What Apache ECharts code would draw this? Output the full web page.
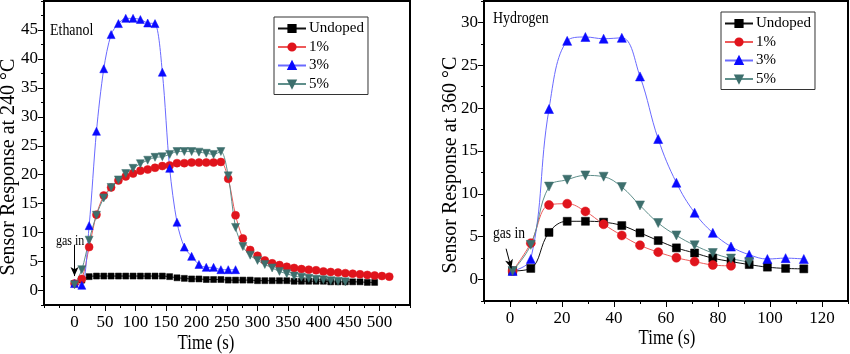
<!DOCTYPE html>
<html>
<head>
<meta charset="utf-8">
<script src="https://cdn.jsdelivr.net/npm/echarts@6/dist/echarts.min.js"></script>
<style>
html,body{margin:0;padding:0;background:#fff;}
#chart{width:850px;height:354px;}
</style>
</head>
<body>
<div id="chart"></div>
<script>
//Ethanol, 240 °C
var ethTime = [0,12,24,36,48,60,72,84,96,108,120,132,144,156,168,180,192,204,216,228,240,252,264,276,288,300,312,324,336,348,360,372,384,396,408,420,432,444,456,468,480,492,504,516];
var ethUndoped = [1.2,1.8,2.4,2.5,2.5,2.5,2.5,2.5,2.5,2.5,2.5,2.5,2.5,2.4,2.2,2.1,2.0,2.0,1.9,1.9,1.9,1.8,1.8,1.8,1.8,1.7,1.7,1.7,1.7,1.7,1.6,1.6,1.6,1.6,1.6,1.5,1.5,1.5,1.5,1.5,1.4,1.4];
var eth1 = [1.2,2.0,7.5,13.1,16.4,17.8,19.0,19.7,20.2,20.7,20.9,21.2,21.5,21.6,22.0,22.0,22.1,22.1,22.1,22.1,22.2,19.3,13.0,9.0,7.0,6.0,5.2,4.7,4.4,4.1,3.9,3.7,3.6,3.5,3.3,3.2,3.1,3.0,2.9,2.8,2.7,2.6,2.5,2.4];
var eth3 = [1.2,0.9,11.2,27.5,38.3,44.2,46.1,47.0,47.0,46.8,46.2,46.1,37.7,21.1,11.8,7.5,5.9,4.5,4.0,4.0,3.6,3.6,3.6];
var eth5 = [1.0,3.6,8.7,13.0,16.0,17.8,19.1,20.2,21.1,21.9,22.5,23.0,23.1,23.5,24.0,24.0,24.0,23.9,23.7,23.5,24.0,19.8,10.9,7.6,6.1,5.2,4.5,3.9,3.3,2.9,2.5,2.3,2.1,1.95,1.85,1.7,1.6,1.5];

//Hydrogen, 360 °C
var h2Time = [1,8,15,22,29,36,43,50,57,64,71,78,85,92,99,106,113];
var h2Undoped = [1.0,1.3,5.5,6.8,6.8,6.7,6.3,5.45,4.55,3.7,3.1,2.5,2.1,1.75,1.45,1.3,1.25];
var h21 = [1.0,4.25,8.7,8.85,7.95,6.45,5.15,4.0,3.2,2.55,2.1,1.7,1.6];
var h23 = [1.0,2.4,19.9,27.85,28.3,28.1,28.2,23.7,16.4,11.3,7.8,5.45,3.85,2.9,2.4,2.5,2.4];
var h25 = [1.0,4.05,10.85,11.65,12.15,12.0,10.8,8.65,6.6,5.15,4.0,3.1,2.45,2.05];

var seriesNames = ['Undoped','1%','3%','5%'];
var ethXTicks = [0,50,100,150,200,250,300,350,400,450,500];
var ethYTicks = [0,5,10,15,20,25,30,35,40,45];
var h2XTicks = [0,20,40,60,80,100,120];
var h2YTicks = [0,5,10,15,20,25,30];

//gas in arrows [start,end]
var ethArrow = [[0,7.9],[0,2.5]];
var h2Arrow = [[-1.5,3.6],[0.5,1.3]];

var FONT = 'Liberation Serif';

var STYLE = {
	'Undoped':{symbol:'rect',color:'#000000',line:'#111111',rotate:0},
	'1%':{symbol:'circle',color:'#e0141c',line:'#ee5a5a',rotate:0},
	'3%':{symbol:'triangle',color:'#0a0aff',line:'#6a6aff',rotate:0},
	'5%':{symbol:'triangle',color:'#3d6f6d',line:'#5f8f8b',rotate:180}
};

function pairs(time,values){
	var arr = [];
	for(var i = 0; i < values.length; i++){
		arr.push([time[i],values[i]]);
	}
	return arr;
}

//minor axis + overlay axis with major ticks and labels
function makeAxes(dim,gridIndex,min,max,step,majors,margin){
	var pos = dim == 'x' ? 'bottom' : 'left';
	var minorAxis = {
		type:'value',gridIndex:gridIndex,position:pos,
		min:min,max:max,interval:step,
		axisLine:{show:true,onZero:false,lineStyle:{color:'#000',width:2}},
		axisTick:{show:true,inside:false,length:3,lineStyle:{color:'#000',width:1}},
		axisLabel:{show:false},
		splitLine:{show:false}
	};
	var majorAxis = {
		type:'value',gridIndex:gridIndex,position:pos,
		min:min,max:max,interval:step,
		axisLine:{show:false,onZero:false},
		axisTick:{show:true,inside:false,length:6,customValues:majors,lineStyle:{color:'#000',width:1}},
		axisLabel:{show:true,customValues:majors,margin:margin,color:'#000',fontFamily:FONT,fontSize:17},
		splitLine:{show:false}
	};
	return [minorAxis,majorAxis];
}

function makeSeries(name,data,xIndex,size,smooth){
	var s = STYLE[name];
	return {
		name:name,type:'line',xAxisIndex:xIndex,yAxisIndex:xIndex,
		data:data,smooth:smooth,showAllSymbol:true,
		symbol:s.symbol,symbolSize:size,symbolRotate:s.rotate,
		itemStyle:{color:s.color,borderColor:s.color,borderWidth:0.5},
		lineStyle:{color:s.line,width:1},
		emphasis:{disabled:true},
		animation:false
	};
}

function makeLegend(left,top){
	return {
		left:left,top:top,orient:'vertical',
		data:seriesNames,
		itemWidth:28,itemHeight:9,itemGap:3.5,
		padding:[4,4,3,3],
		borderColor:'#333',borderWidth:1,
		selectedMode:false,
		textStyle:{fontFamily:FONT,fontSize:15,color:'#000',lineHeight:15,padding:[0,0,0,-2]}
	};
}

function textItem(text,x,y,size,scaleX,rotation,align){
	return {
		type:'text',x:x,y:y,rotation:rotation||0,scaleX:scaleX,
		style:{text:text,fill:'#000',font:size+'px "'+FONT+'"',textAlign:align||'center',textVerticalAlign:'middle'}
	};
}

function arrowLine(points){
	return {
		silent:true,symbol:['none','arrow'],symbolSize:[6,9],
		lineStyle:{color:'#000',width:1,type:'solid'},
		label:{show:false},
		data:[[{coord:points[0]},{coord:points[1]}]]
	};
}

function renderChart(){
	var myChart = echarts.init(document.getElementById('chart'));

	var ethX = makeAxes('x',0,-50,550,25,ethXTicks,9);
	var h2X = makeAxes('x',1,-10,130,10,h2XTicks,9);
	var ethY = makeAxes('y',0,-2.5,50,2.5,ethYTicks,6);
	var h2Y = makeAxes('y',1,-2.5,32.5,2.5,h2YTicks,6);

	var series = [
		makeSeries('Undoped',pairs(ethTime,ethUndoped),0,6,0.3),
		makeSeries('1%',pairs(ethTime,eth1),0,8,0.3),
		makeSeries('3%',pairs(ethTime,eth3),0,8,0.3),
		makeSeries('5%',pairs(ethTime,eth5),0,8,0.3),
		makeSeries('Undoped',pairs(h2Time,h2Undoped),2,8,0.4),
		makeSeries('1%',pairs(h2Time,h21),2,9,0.4),
		makeSeries('3%',pairs(h2Time,h23),2,9,0.4),
		makeSeries('5%',pairs(h2Time,h25),2,9,0.4)
	];
	series[0].markLine = arrowLine(ethArrow);
	series[4].markLine = arrowLine(h2Arrow);

	myChart.setOption({
		backgroundColor:'#fff',
		animation:false,
		grid:[
			{left:44,top:1,width:366,height:304,show:true,borderColor:'#000',borderWidth:2},
			{left:484,top:1,width:364,height:300,show:true,borderColor:'#000',borderWidth:2}
		],
		xAxis:[ethX[0],ethX[1],h2X[0],h2X[1]],
		yAxis:[ethY[0],ethY[1],h2Y[0],h2Y[1]],
		legend:[makeLegend(274,17),makeLegend(721,12)],
		series:series,
		graphic:[
			textItem('Ethanol',50,31,17,0.82,0,'left'),
			textItem('Hydrogen',493,19,17,0.82,0,'left'),
			textItem('gas in',56,241,15,0.8,0,'left'),
			textItem('gas in',493,234,17,0.8,0,'left'),
			textItem('Time (s)',206,343,21,0.8),
			textItem('Time (s)',667,338,21,0.8),
			textItem('Sensor Response at 240 °C',9,167,20,1,Math.PI/2),
			textItem('Sensor Response at 360 °C',451,165,20,1,Math.PI/2)
		]
	});
}

renderChart();
</script>
</body>
</html>
